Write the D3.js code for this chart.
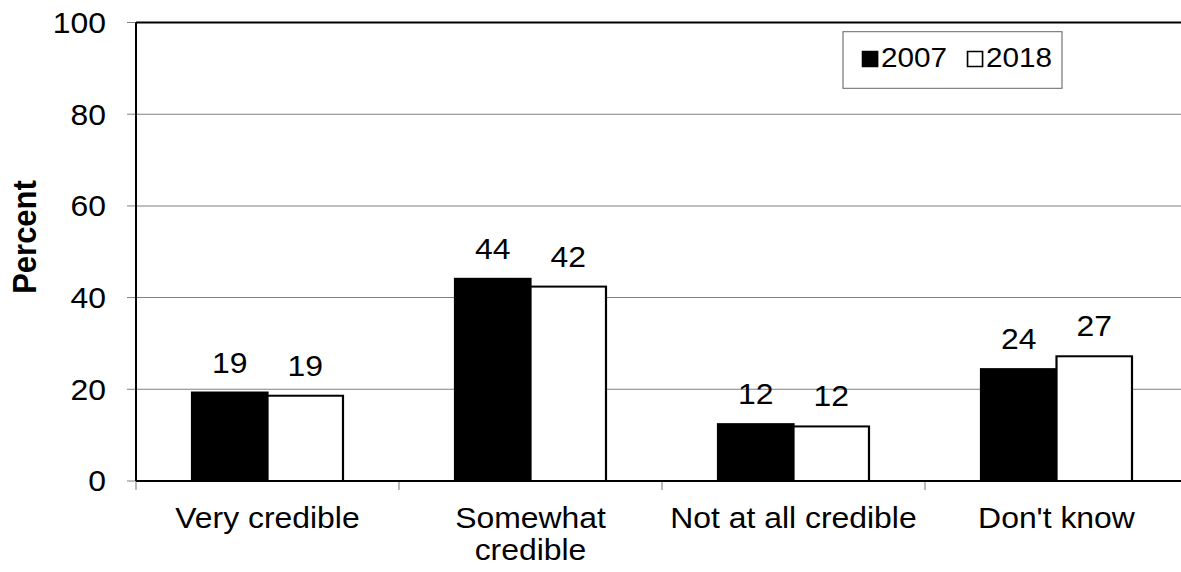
<!DOCTYPE html>
<html>
<head>
<meta charset="utf-8">
<script src="https://cdn.jsdelivr.net/npm/d3@7"></script>
<style>
  body { margin: 0; background: #fff; }
  text { font-family: "Liberation Sans", Arial, sans-serif; fill: #000; }
</style>
</head>
<body>
<div id="chart"></div>
<script>
// data
var categories = [["Very credible"], ["Somewhat", "credible"], ["Not at all credible"], ["Don't know"]];
var seriesNames = ["2007", "2018"];
var values2007 = [19.3, 44.1, 12.4, 24.4];
var values2018 = [18.6, 42.4, 11.9, 27.2];
var yTicks = [0, 20, 40, 60, 80, 100];

var W = 1181, H = 572;
// the source picture is a little wider than tall, stretch x
var sx = 1.1;
var mLeft = 136 / sx, mRight = 1188 / sx, mTop = 22.5, mBottom = 481;

var svg = d3.select("#chart").append("svg")
  .attr("width", W).attr("height", H)
  .attr("viewBox", "0 0 " + (W / sx) + " " + H)
  .attr("preserveAspectRatio", "none");

var x0 = d3.scaleBand().domain(d3.range(categories.length)).range([mLeft, mRight]);
var x1 = d3.scaleBand().domain(seriesNames).range([0, x0.bandwidth()]).paddingOuter(0.742);
var y = d3.scaleLinear().domain([0, 100]).range([mBottom, mTop]);

//gridlines
svg.selectAll("line.grid")
  .data(yTicks.filter(function(d) { return d > 0 && d < 100; }))
  .enter().append("line")
  .attr("x1", mLeft).attr("x2", W / sx)
  .attr("y1", function(d) { return y(d); })
  .attr("y2", function(d) { return y(d); })
  .attr("stroke", "#808080").attr("stroke-width", 1);

//y ticks + labels
svg.selectAll("line.ytick")
  .data(yTicks).enter().append("line")
  .attr("x1", 127 / sx).attr("x2", mLeft)
  .attr("y1", function(d) { return y(d); })
  .attr("y2", function(d) { return y(d); })
  .attr("stroke", "#808080").attr("stroke-width", 1);

svg.selectAll("text.ytick")
  .data(yTicks).enter().append("text")
  .attr("x", 106 / sx)
  .attr("y", function(d) { return y(d); })
  .attr("dy", "0.36em")
  .attr("text-anchor", "end")
  .style("font-size", "29px")
  .text(function(d) { return d; });

//x ticks at category boundaries
svg.selectAll("line.xtick")
  .data(d3.range(categories.length + 1)).enter().append("line")
  .attr("x1", function(i) { return mLeft + i * x0.step(); })
  .attr("x2", function(i) { return mLeft + i * x0.step(); })
  .attr("y1", mBottom).attr("y2", mBottom + 9)
  .attr("stroke", "#808080").attr("stroke-width", 1);

//bars
var groups = svg.selectAll("g.cat")
  .data(categories.map(function(c, i) {
    return { i: i, vals: [values2007[i], values2018[i]] };
  }))
  .enter().append("g")
  .attr("transform", function(d) { return "translate(" + x0(d.i) + ",0)"; });

groups.selectAll("rect")
  .data(function(d) { return d.vals.map(function(v, k) { return { s: seriesNames[k], v: v }; }); })
  .enter().append("rect")
  .attr("x", function(d) { return x1(d.s); })
  .attr("width", x1.bandwidth())
  .attr("y", function(d) { return y(d.v); })
  .attr("height", function(d) { return y(0) - y(d.v); })
  .attr("fill", function(d) { return d.s === "2007" ? "#000" : "#fff"; })
  .attr("stroke", "#000").attr("stroke-width", 2);

groups.selectAll("text.val")
  .data(function(d) { return d.vals.map(function(v, k) { return { s: seriesNames[k], v: v }; }); })
  .enter().append("text")
  .attr("x", function(d) { return x1(d.s) + x1.bandwidth() / 2; })
  .attr("y", function(d) { return y(d.v) - 20; })
  .attr("text-anchor", "middle")
  .style("font-size", "29px")
  .text(function(d) { return Math.round(d.v); });

//category labels
svg.selectAll("text.cat")
  .data(categories).enter().append("text")
  .attr("text-anchor", "middle")
  .style("font-size", "29px")
  .each(function(lines, i) {
    var t = d3.select(this);
    lines.forEach(function(l, j) {
      t.append("tspan")
        .attr("x", x0(i) + x0.bandwidth() / 2)
        .attr("y", 528.5 + j * 32)
        .text(l);
    });
  });

//frame: top, left, bottom
svg.append("line").attr("x1", mLeft).attr("x2", W / sx).attr("y1", mTop).attr("y2", mTop)
  .attr("stroke", "#000").attr("stroke-width", 2);
svg.append("line").attr("x1", mLeft).attr("x2", mLeft).attr("y1", mTop).attr("y2", mBottom)
  .attr("stroke", "#000").attr("stroke-width", 2 / sx);
svg.append("line").attr("x1", mLeft).attr("x2", W / sx).attr("y1", mBottom).attr("y2", mBottom)
  .attr("stroke", "#000").attr("stroke-width", 2);

//y title
svg.append("text")
  .attr("transform", "translate(" + (36 / sx) + "," + 237 + ") rotate(-90)")
  .attr("text-anchor", "middle")
  .style("font-size", "31px").style("font-weight", "bold")
  .text("Percent");

//legend
var lg = svg.append("g");
lg.append("rect")
  .attr("x", 843 / sx).attr("y", 31.7)
  .attr("width", 219 / sx).attr("height", 56.6)
  .attr("fill", "#fff").attr("stroke", "#666").attr("stroke-width", 1);
var legendX = [862, 967];
seriesNames.forEach(function(s, k) {
  lg.append("rect")
    .attr("x", legendX[k] / sx + 0.5).attr("y", 51.5)
    .attr("width", 15 / sx).attr("height", 15)
    .attr("fill", k === 0 ? "#000" : "#fff")
    .attr("stroke", "#000").attr("stroke-width", 1.5);
  lg.append("text")
    .attr("x", (legendX[k] + 19) / sx).attr("y", 66.7)
    .style("font-size", "27px")
    .text(s);
});
</script>
</body>
</html>
